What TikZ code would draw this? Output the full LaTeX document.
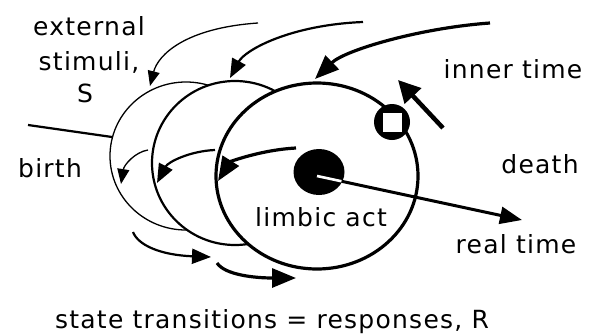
\documentclass[tikz,border=0pt]{standalone}
\usepackage{fontspec}
\setmainfont{DejaVu Sans}[LetterSpace=5]
\usetikzlibrary{arrows.meta,calc,shapes.geometric}

\begin{document}
\begin{tikzpicture}[x=1pt, y=-1pt, thinline/.style={line width=1.3pt}, medline/.style={line width=2.2pt}, thickline/.style={line width=3.2pt}, thinarrow/.style={thinline,-{Triangle[length=15pt,width=12pt]}}, medarrow/.style={medline,-{Triangle[length=19pt,width=15pt]}}, thickarrow/.style={thickline,-{Triangle[length=24pt,width=19pt]}}, lbl/.style={inner sep=0pt,anchor=base,font=\fontsize{25}{34}\selectfont}]

 \useasboundingbox (0,0) rectangle (597,335);

 % centres of the three states
 \coordinate (c1) at (186,156);
 \coordinate (c2) at (235,163);
 \coordinate (c3) at (317,176);

 % stimuli from above
 \coordinate (s1) at (258,23);  \coordinate (t1) at (150,86);
 \coordinate (s2) at (363,22);  \coordinate (t2) at (230,78);
 \coordinate (s3) at (490,23);  \coordinate (t3) at (315,79);

 % inner arrows
 \coordinate (i1) at (148,150); \coordinate (j1) at (121,184);
 \coordinate (i2) at (215,150); \coordinate (j2) at (157,183);
 \coordinate (i3) at (296,148); \coordinate (j3) at (218,181);

 % responses below
 \coordinate (b1) at (133,232); \coordinate (e1) at (211,257);
 \coordinate (b2) at (217,263); \coordinate (e2) at (296,278);

 \coordinate (born) at (28,125);
 \coordinate (edge) at (112,137);
 \coordinate (rtip) at (522,220);
 \coordinate (p0) at (443,128);
 \coordinate (p1) at (398,80);

    \filldraw[fill=white, thinline] (c1) ellipse [x radius=76pt, y radius=74pt];
    \draw[thinarrow] (i1) .. controls (135,152) and (124,165) .. (j1);
    \filldraw[fill=white, medline] (c2) ellipse [x radius=83pt, y radius=82pt];
    \draw[medarrow] (i2) .. controls (190,151) and (168,162) .. (j2);
    \filldraw[fill=white, thickline] (c3) ellipse [x radius=101pt, y radius=93pt];
    \draw[thickarrow] (i3) .. controls (260,150) and (230,162) .. (j3);

	\node[ellipse, fill=black, inner sep=0pt, minimum width=51pt, minimum height=46pt] (act) at (319,172) {};
	\draw[line width=3pt, -{Triangle[length=22pt,width=17pt]}] (c3) -- (rtip);
	\draw[white, line width=2.6pt] (c3) -- ($(c3)!25pt!(rtip)$);

	\node[circle, fill=black, inner sep=0pt, minimum size=36pt] (mark) at (392,122) {};
	\node[fill=white, inner sep=0pt, minimum size=19pt] (markbox) at (mark) {};
	\draw[line width=4.5pt, -{Triangle[length=22pt,width=22pt]}] (p0) -- (p1);

	\draw[thinarrow] (s1) .. controls (185,28) and (158,55) .. (t1);
	\draw[medarrow] (s2) .. controls (290,25) and (245,50) .. (t2);
	\draw[thickarrow] (s3) .. controls (420,28) and (345,50) .. (t3);

	\draw[medline] (born) -- (edge);

	\draw[medarrow] (b1) .. controls (138,245) and (160,255) .. (e1);
	\draw[thickarrow] (b2) .. controls (225,275) and (255,278) .. (e2);

	\node[lbl] (ext) at (89,35) {external};
	\node[lbl] (stim) at (89,70) {stimuli,};
	\node[lbl] (sname) at (85,102) {S};
	\node[lbl] (birth) at (50,177) {birth};
	\node[lbl] (inner) at (513,78) {inner time};
	\node[lbl] (death) at (540,173) {death};
	\node[lbl] (limbic) at (321,226) {limbic act};
	\node[lbl] (real) at (516,253) {real time};
	\node[lbl] (resp) at (272,328) {state transitions = responses, R};
\end{tikzpicture}
\end{document}
